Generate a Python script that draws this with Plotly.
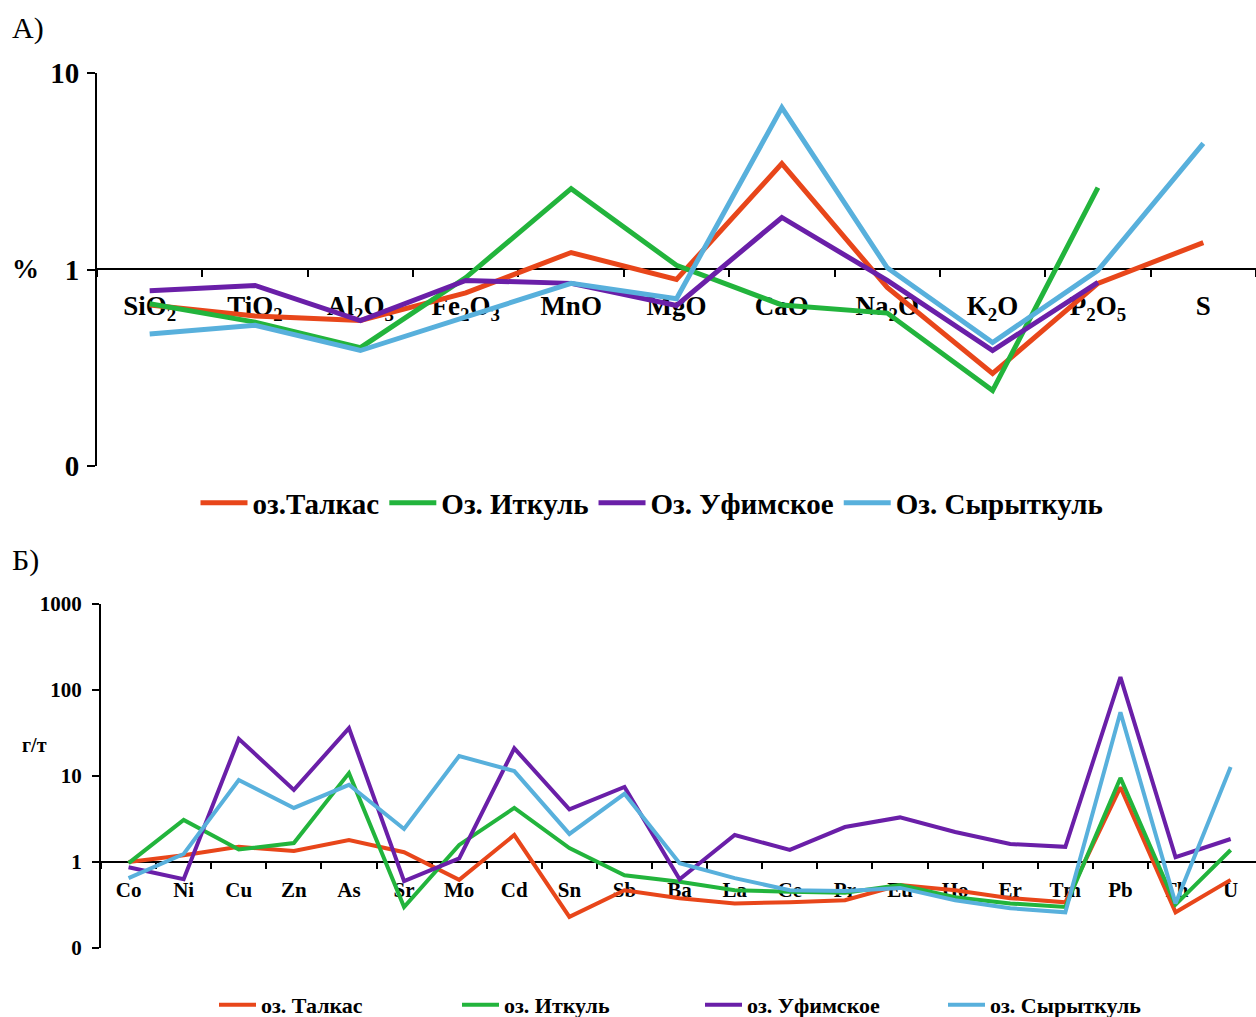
import plotly.graph_objects as go

W, H = 1256, 1017

# ---- Panel A: major oxides, %
oxides = ["SiO<sub>2</sub>", "TiO<sub>2</sub>", "Al<sub>2</sub>O<sub>3</sub>",
          "Fe<sub>2</sub>O<sub>3</sub>", "MnO", "MgO", "CaO", "Na<sub>2</sub>O",
          "K<sub>2</sub>O", "P<sub>2</sub>O<sub>5</sub>", "S"]
talkas_a = [0.66, 0.58, 0.55, 0.76, 1.22, 0.89, 3.46, 0.81, 0.296, 0.85, 1.37]
itkul_a = [0.67, 0.54, 0.40, 0.91, 2.58, 1.05, 0.66, 0.60, 0.242, 2.61, None]
ufimskoe_a = [0.78, 0.83, 0.55, 0.88, 0.85, 0.656, 1.84, 0.88, 0.387, 0.86, None]
syrytkul_a = [0.47, 0.52, 0.387, 0.57, 0.85, 0.71, 6.67, 1.02, 0.425, 0.99, 4.38]

# ---- Panel B: trace elements, g/t
elements = ["Co", "Ni", "Cu", "Zn", "As", "Sr", "Mo", "Cd", "Sn", "Sb", "Ba",
            "La", "Ce", "Pr", "Eu", "Ho", "Er", "Tm", "Pb", "Th", "U"]
talkas_b = [1.0, 1.2, 1.5, 1.34, 1.8, 1.3, 0.62, 2.06, 0.23, 0.47, 0.38,
            0.33, 0.34, 0.36, 0.54, 0.47, 0.38, 0.34, 7.4, 0.26, 0.62]
itkul_b = [0.97, 3.08, 1.4, 1.66, 10.8, 0.30, 1.58, 4.25, 1.45, 0.70, 0.59,
           0.47, 0.45, 0.44, 0.54, 0.39, 0.33, 0.30, 9.5, 0.32, 1.38]
ufimskoe_b = [0.87, 0.63, 27, 6.9, 36, 0.6, 1.1, 21, 4.1, 7.45, 0.63,
              2.06, 1.38, 2.55, 3.3, 2.23, 1.62, 1.5, 141, 1.14, 1.85]
syrytkul_b = [0.65, 1.24, 9.0, 4.25, 7.9, 2.42, 17.1, 11.4, 2.12, 6.2, 0.97,
              0.65, 0.47, 0.46, 0.50, 0.36, 0.29, 0.26, 55, 0.33, 12.7]

names_a = ["оз.Талкас", "Оз. Иткуль", "Оз. Уфимское", "Оз. Сырыткуль"]
names_b = ["оз. Талкас", "оз. Иткуль", "оз. Уфимское", "оз. Сырыткуль"]
colors = ["#E8461A", "#22B43C", "#6A1FA8", "#58B0DC"]

FONT = "Liberation Serif"


def px_x(p):
    return p / W


def px_y(p):
    return 1 - p / H


fig = go.Figure()

for name, col, vals in zip(names_a, colors, [talkas_a, itkul_a, ufimskoe_a, syrytkul_a]):
    fig.add_trace(go.Scatter(x=oxides, y=vals, name=name, mode="lines",
                             line=dict(color=col, width=5),
                             xaxis="x", yaxis="y", legend="legend"))

for name, col, vals in zip(names_b, colors, [talkas_b, itkul_b, ufimskoe_b, syrytkul_b]):
    fig.add_trace(go.Scatter(x=elements, y=vals, name=name, mode="lines",
                             line=dict(color=col, width=4),
                             xaxis="x2", yaxis="y2", legend="legend2"))

axis_common = dict(showline=True, linecolor="black", linewidth=2, showgrid=False,
                   zeroline=False, ticks="outside", tickcolor="black", tickwidth=2)

fig.update_layout(
    width=W, height=H,
    margin=dict(l=0, r=0, t=0, b=0, autoexpand=False),
    paper_bgcolor="white", plot_bgcolor="white",
    font=dict(family=FONT, color="black"),
    xaxis=dict(**axis_common, type="category", range=[-0.5, 10.5],
               domain=[px_x(97), 1], anchor="free", position=px_y(269),
               tickson="boundaries", ticklen=7, layer="below traces",
               ticklabelstandoff=13,
               tickfont=dict(family=FONT, size=27, weight="bold")),
    yaxis=dict(**axis_common, type="log", range=[-1, 1],
               domain=[px_y(466), px_y(73)], anchor="x", ticklen=8,
               tickvals=[0.1, 1, 10], ticktext=["0", "1", "10"],
               ticklabelstandoff=2,
               tickfont=dict(family=FONT, size=29, weight="bold")),
    xaxis2=dict(**axis_common, type="category", range=[-0.5, 20.46],
                domain=[px_x(101), 1], anchor="free", position=px_y(862),
                tickson="boundaries", ticklen=6, layer="below traces",
                ticklabelstandoff=9,
                tickfont=dict(family=FONT, size=21, weight="bold")),
    yaxis2=dict(**axis_common, type="log", range=[-1, 3],
                domain=[px_y(948), px_y(604)], anchor="x2", ticklen=7,
                tickvals=[0.1, 1, 10, 100, 1000],
                ticktext=["0", "1", "10", "100", "1000"],
                ticklabelstandoff=6,
                tickfont=dict(family=FONT, size=21, weight="bold")),
    legend=dict(orientation="h", x=px_x(652), xanchor="center",
                y=px_y(503), yanchor="middle", itemwidth=47,
                font=dict(family=FONT, size=29, weight="bold"),
                bgcolor="rgba(0,0,0,0)"),
    legend2=dict(orientation="h", x=px_x(214), xanchor="left",
                 y=px_y(1005), yanchor="middle", itemwidth=37,
                 entrywidth=191, entrywidthmode="pixels",
                 font=dict(family=FONT, size=22, weight="bold"),
                 bgcolor="rgba(0,0,0,0)"),
)

annotations = [
    dict(text="А)", x=px_x(10), y=px_y(28), xanchor="left", yanchor="middle",
         font=dict(family=FONT, size=30)),
    dict(text="Б)", x=px_x(10), y=px_y(560), xanchor="left", yanchor="middle",
         font=dict(family=FONT, size=30)),
    dict(text="%", x=px_x(10), y=px_y(269), xanchor="left", yanchor="middle",
         font=dict(family=FONT, size=27, weight="bold")),
    dict(text="г/т", x=px_x(20), y=px_y(745), xanchor="left", yanchor="middle",
         font=dict(family=FONT, size=20, weight="bold")),
]
for a in annotations:
    a.update(xref="paper", yref="paper", showarrow=False)
fig.update_layout(annotations=annotations)

fig.write_html("out.html")
